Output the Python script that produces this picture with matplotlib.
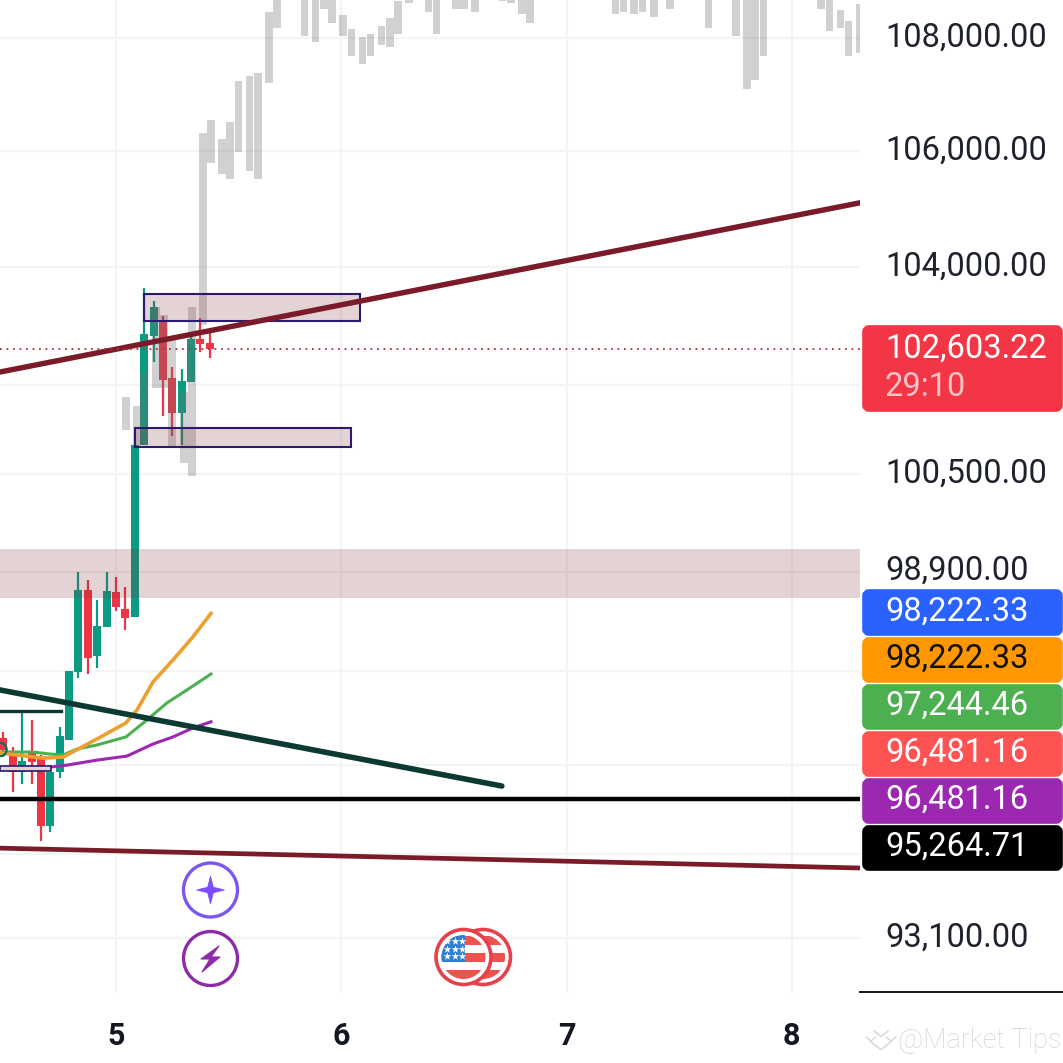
import numpy as np
import matplotlib
matplotlib.use('Agg')
import matplotlib.pyplot as plt
from matplotlib.patches import Circle, FancyBboxPatch, Polygon, Rectangle
from matplotlib.ticker import NullFormatter, NullLocator
from matplotlib.transforms import ScaledTranslation

plt.rcParams['font.family'] = ['Roboto', 'DejaVu Sans']

# velas de 1 hora, horas contadas desde el dia 5
horas = [-12, -11, -10, -9, -8, -7, -6, -5, -4, -3, -2, -1, 0, 1, 2, 3, 4, 5, 6, 7, 8, 9, 10]
aperturas = [96224, 96001, 95684, 96017, 95890, 94836, 95684, 96192, 97276, 98602, 97535, 98004,
             98570, 98295, 98165, 100989, 102823, 103095, 102110, 101524, 102042, 102772, 102704]
maximos = [96320, 96081, 96622, 96511, 95953, 95684, 96399, 97292, 98893, 98764, 98440, 98893,
           98812, 98650, 100989, 103639, 103418, 103163, 102296, 102262, 102891, 103129, 102891]
minimos = [95922, 95370, 95496, 95496, 94602, 94743, 95590, 96192, 97180, 97244, 97340, 98004,
           98262, 97955, 98165, 100989, 102382, 101474, 101140, 100989, 102042, 102550, 102448]
cierres = [96033, 95684, 95857, 95842, 94836, 95684, 96256, 97292, 98602, 97503, 98020, 98586,
           98327, 98149, 100989, 102857, 103316, 102076, 101524, 102059, 102772, 102687, 102600]

# barras grises de la proyeccion
gris_h = [1.06, 2.24, 3.0, 4.26, 5.11, 5.96, 7.24, 8.09, 9.27, 10.12, 11.29, 12.14, 13.05, 14.2, 15.12,
          16.29, 17.15, 19.22, 20.07, 21.25, 22.15, 23.0, 24.17, 25.08, 26.25, 27.1, 28.27, 29.18,
          30.03, 31.2, 33.28, 34.13, 36.2, 37.06, 38.23, 41.16, 42.07, 43.24, 44.09, 53.2, 54.05,
          55.22, 56.12, 57.3, 59.05, 63.15, 66.08, 67.25, 68.1, 69.0, 75.13, 76.04, 77.21, 78.06, 79.23]
gris_alto = [101791, 101641, 102194, 103316, 103180, 102753, 101874, 103316, 106320, 106550, 106212,
             106513, 107239, 107327, 107380, 108463, 109000, 109000, 109000, 109000, 109000, 109000,
             108409, 108160, 108018, 108071, 108213, 108356, 108659, 109000, 109000, 109000, 109000,
             109000, 109000, 109000, 109000, 109000, 109000, 109000, 109000, 109000, 109000, 109000,
             109000, 109000, 109000, 109000, 109000, 109000, 109000, 109000, 108498, 108303, 108605]
gris_bajo = [101240, 100989, 100989, 101941, 101941, 100973, 100689, 100472, 103011, 105797, 105607,
             105520, 105988, 105659, 105520, 107204, 108178, 108676, 108036, 107929, 108516, 108267,
             108036, 107681, 107540, 107681, 107876, 107841, 108071, 108623, 108463, 108071, 108516,
             108516, 108463, 108659, 108623, 108427, 108267, 108427, 108463, 108427, 108463, 108374,
             108516, 108178, 108036, 107097, 107257, 107681, 108516, 108125, 108178, 107681, 107734]

# medias moviles
naranja_h = [-12.35, -7.77, -5.64, -2.02, 1.06, 2.24, 3.94, 6.07, 8.2, 10.12]
naranja_p = [95985, 95905, 95921, 96208, 96463, 96670, 97117, 97470, 97842, 98222.33]
verde_h = [-12.35, -8.84, -7.03, -5.64, -4.15, -2.02, 1.06, 3.3, 5.43, 7.56, 10.12]
verde_p = [96001, 96001, 95969, 95953, 96049, 96113, 96240, 96511, 96782, 96989, 97244.46]
morada_h = [-7.03, -5.22, -2.02, 1.17, 3.94, 6.07, 8.2, 10.12]
morada_p = [95763, 95794, 95873, 95937, 96128, 96240, 96383, 96481.16]

precio_actual = 102603.22
linea_negra = 95264.71

rejilla_y = [108000, 106000, 104000, 102000, 100500, 98900, 97300, 95800, 94400, 93100]
etiquetas_y = ['108,000.00', '106,000.00', '104,000.00', '', '100,500.00', '98,900.00', '', '', '', '93,100.00']
dias = [5, 6, 7, 8]

etiquetas = [('98,222.33', '#2962ff', 'white', 589, 636),
             ('98,222.33', '#ff9800', '#111111', 637, 683),
             ('97,244.46', '#4caf50', 'white', 684, 730),
             ('96,481.16', '#ff5252', 'white', 731, 777),
             ('96,481.16', '#9c27b0', 'white', 778, 824),
             ('95,264.71', '#000000', 'white', 825, 871)]

VERDE = '#0b9a82'
ROJO = '#ee3445'
GRANATE = '#7b1a28'
AZUL = '#2b1a70'
x_min, x_max = 4.485, 8.303

fig = plt.figure(figsize=(10.63, 10.63), dpi=100)
ax = fig.add_axes([0, 70 / 1063, 860 / 1063, 993 / 1063])
ax.set_yscale('log')
ax.set_xlim(x_min, x_max)
ax.set_ylim(92260, 108679)
for s in ax.spines.values():
    s.set_visible(False)
ax.yaxis.tick_right()
ax.yaxis.set_minor_locator(NullLocator())
ax.set_yticks(rejilla_y)
ax.set_yticklabels(etiquetas_y)
ax.yaxis.set_minor_formatter(NullFormatter())
ax.set_xticks(dias)
ax.set_xticklabels([str(d) for d in dias], fontsize=22, fontweight='bold', color='#131722')
ax.tick_params(axis='y', length=0, pad=18, labelsize=23.5, labelcolor='#1e222d')
ax.tick_params(axis='x', length=0, pad=20)
ax.grid(True, color='#f3f4f4', lw=1.5)
ax.set_axisbelow(True)
# las etiquetas del eje quedan 4 px por encima de su linea
subir = ScaledTranslation(0, 4 / 100, fig.dpi_scale_trans)
for lab in ax.get_yticklabels():
    lab.set_transform(lab.get_transform() + subir)

# velas
dia = lambda h: 5 + np.asarray(h) / 24
t = dia(horas)
ap, ma, mi, ci = map(np.array, (aperturas, maximos, minimos, cierres))
colores = [VERDE if c >= a else ROJO for a, c in zip(ap, ci)]
ax.vlines(t, mi, ma, colors=colores, lw=1.6, zorder=2)
ax.bar(t, np.abs(ci - ap), bottom=np.minimum(ap, ci), width=0.0355, color=colores, zorder=2)

# proyeccion gris, va por encima de las velas
g_a, g_b = np.array(gris_alto), np.array(gris_bajo)
ax.bar(dia(gris_h), g_a - g_b, bottom=g_b, width=0.0335, color='#707070', alpha=0.32, lw=0, zorder=3)

# medias
ax.plot(dia(verde_h), verde_p, color='#4caf50', lw=2.2, zorder=4)
ax.plot(dia(morada_h), morada_p, color='#9c27b0', lw=2.2, zorder=4)
ax.plot(dia(naranja_h), naranja_p, color='#eda02e', lw=2.6, zorder=4)

# zonas
ax.axhspan(98473, 99271, color='#843740', alpha=0.22, lw=0, zorder=5)
for x0, x1, p0, p1 in [(5.124, 6.083, 103078, 103537), (5.084, 6.043, 100956, 101273)]:
    ax.add_patch(Rectangle((x0, p0), x1 - x0, p1 - p0, fc='#843740', alpha=0.22, lw=0, zorder=5))
    ax.add_patch(Rectangle((x0, p0), x1 - x0, p1 - p0, fc='none', ec=AZUL, lw=1.5, zorder=6))
ax.add_patch(Rectangle((x_min, 95700), 4.711 - x_min, 75, fc='#e4d3d5', ec=AZUL, lw=1.2, zorder=6))

# lineas de tendencia
ax.plot([x_min, x_max], [102211, 105104], color=GRANATE, lw=3.9, zorder=6)
ax.plot([x_min, x_max], [94491, 94182], color=GRANATE, lw=3.4, zorder=6)
ax.plot([x_min, 6.713], [96989, 95464], color='#0c3a33', lw=4.0, zorder=6, solid_capstyle='round')
ax.plot([x_min, 4.756], [96654, 96654], color='#0c3a33', lw=2.4, zorder=6)
ax.axhline(linea_negra, color='black', lw=3.2, zorder=6)
ax.axhline(precio_actual, color='#b5303f', lw=1.3, ls=(0, (1, 2.6)), zorder=6)
ax.scatter([dia(-12.35)], [96040], s=90, fc='none', ec='#0c6f62', lw=1.6, zorder=6)

# capa en pixeles para etiquetas e iconos
ov = fig.add_axes([0, 0, 1, 1], zorder=10)
ov.set_xlim(0, 1063)
ov.set_ylim(1063, 0)
ov.axis('off')
ov.plot([860, 1063], [992, 992], color='#131722', lw=1.4)


def caja(y0, y1, color):
    ov.add_patch(FancyBboxPatch((866, y0 + 4), 193, y1 - y0 - 8, boxstyle='round,pad=0,rounding_size=3',
                                mutation_aspect=1, fc=color, ec=color, lw=5.5))


caja(325, 412, '#f23645')
ov.text(885, 349, f'{precio_actual:,.2f}', color='white', fontsize=23.5, va='center')
ov.text(885, 387, '29:10', color='#fbc3c9', fontsize=23.5, va='center')
for txt, col, tc, y0, y1 in etiquetas:
    caja(y0, y1, col)
    ov.text(885, (y0 + y1) / 2 - 1, txt, color=tc, fontsize=23.5, va='center')

# iconos
ov.add_patch(Circle((210.5, 890), 27, fc='white', ec='#7c56f0', lw=2.4))
r = np.array([14, 4] * 4)
a = np.pi / 2 + np.arange(8) * np.pi / 4
ov.add_patch(Polygon(np.c_[210.5 + r * np.cos(a), 890 + r * np.sin(a)], fc='#7c4dff', ec='#7c4dff', lw=0.5))
ov.add_patch(Circle((210.5, 958.5), 27, fc='white', ec='#8e2ba6', lw=2.4))
ov.add_patch(Polygon([(219, 946), (201, 959), (210, 959), (202, 972), (220, 957), (211, 957)],
                     fc='#8e2ba6', ec='#8e2ba6', lw=0.8, joinstyle='round'))

for cx in [483, 463.5]:
    fondo = Circle((cx, 957), 27.5, fc='white', ec='#e8404a', lw=2.6)
    ov.add_patch(fondo)
    borde = Circle((cx, 957), 22, transform=ov.transData)
    for y0, y1 in [(936, 945), (953, 962), (970, 979)]:
        rc = ov.add_patch(Rectangle((cx - 24, y0), 48, y1 - y0, fc='#ee5350', lw=0))
        rc.set_clip_path(borde)
    if cx < 470:
        az = ov.add_patch(Rectangle((cx - 24, 934), 25, 28, fc='#2f7fd0', lw=0))
        az.set_clip_path(borde)
        ex, ey = np.meshgrid([cx - 16.5, cx - 8.5, cx - 1.5], [941, 949, 956])
        ov.scatter(ex.ravel(), ey.ravel(), marker='*', s=34, c='white', lw=0, zorder=5)

# marca de agua
ov.text(898, 1041, '@Market Tips', color='#d4d4d4', fontsize=19.5, va='center', fontweight='light')
for dy, ancho in [(-5, 7), (5, 11)]:
    ov.plot([881 - ancho, 881, 881 + ancho], [1036 + dy, 1036 + dy + ancho * 0.8, 1036 + dy],
            color='#d8d8d8', lw=1.1)
ov.plot([866, 871, 876], [1037, 1041, 1037], color='#d8d8d8', lw=1.0)
ov.plot([886, 891, 896], [1037, 1041, 1037], color='#d8d8d8', lw=1.0)

plt.savefig('out.png', dpi=100)
